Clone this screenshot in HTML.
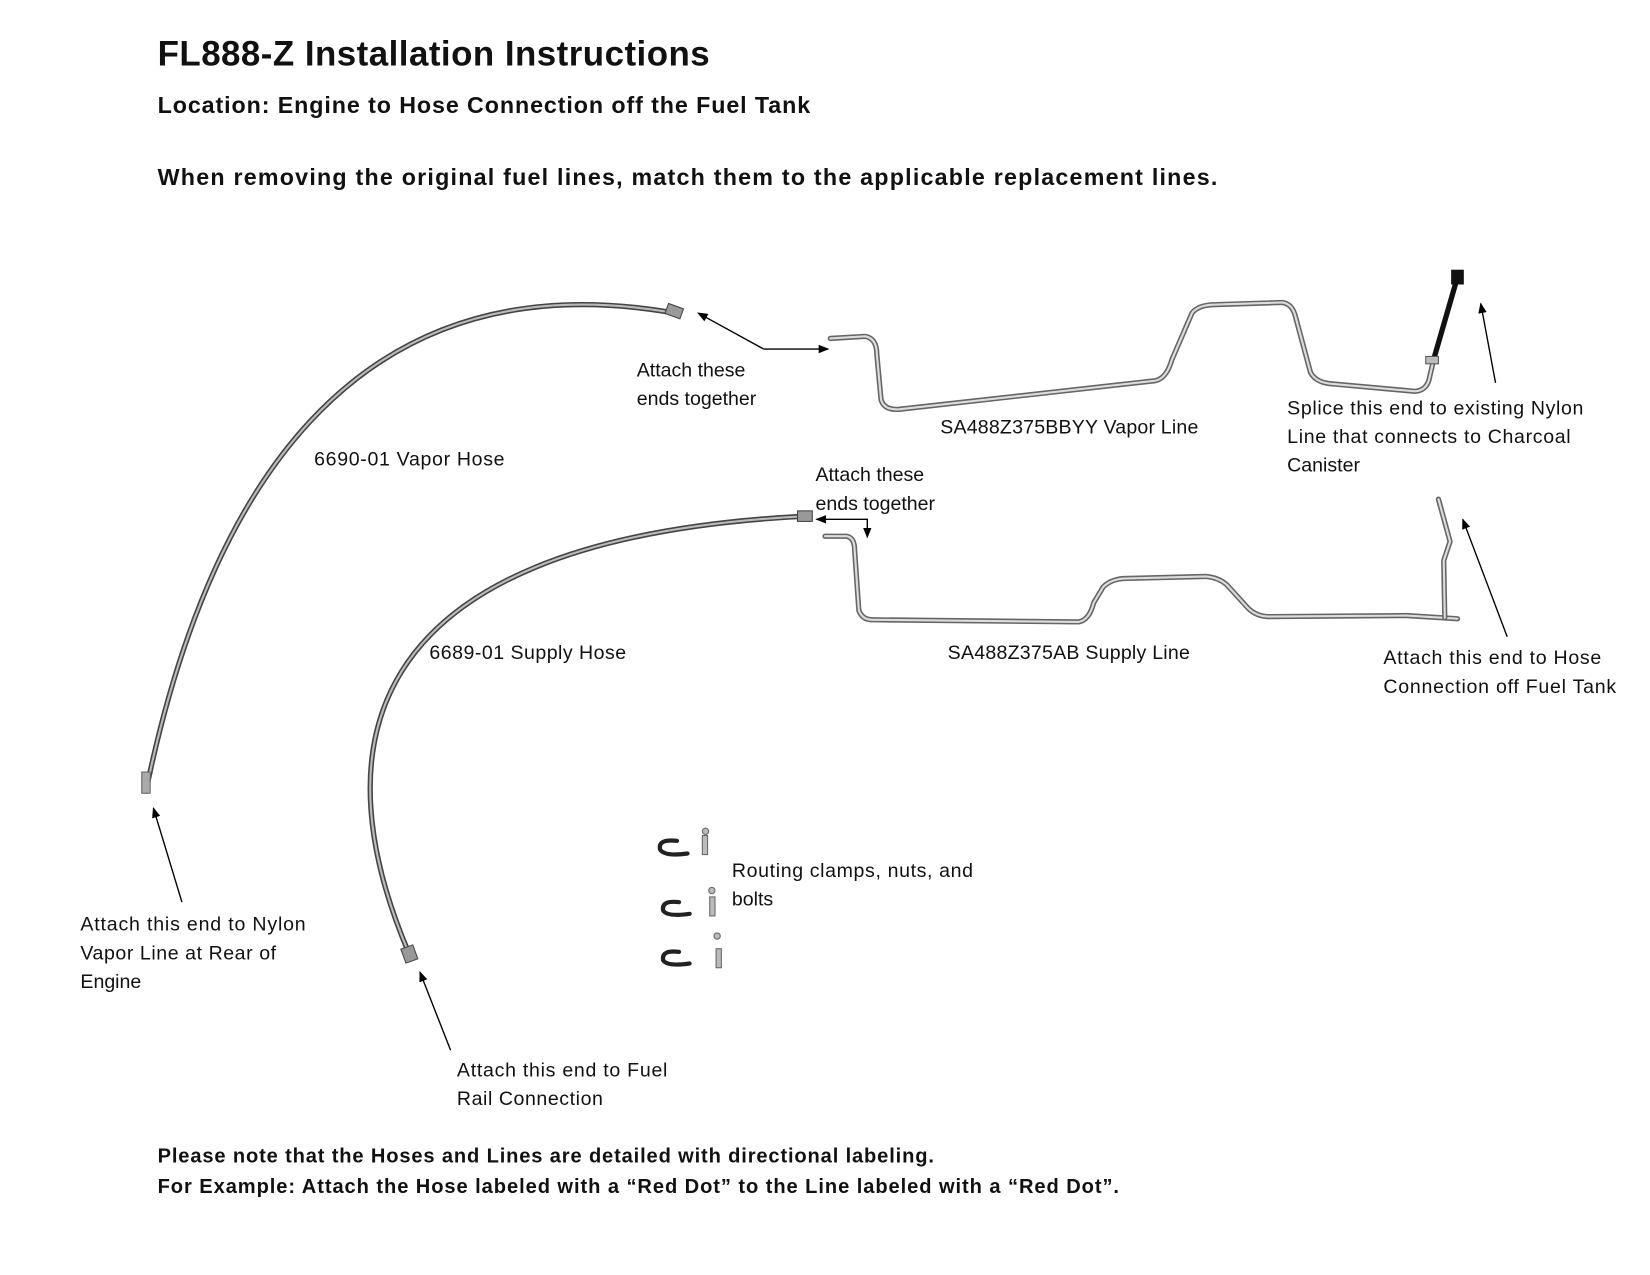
<!DOCTYPE html>
<html><head><meta charset="utf-8"><style>
html,body{margin:0;padding:0;background:#fff;}
svg{display:block;}
text{font-family:"Liberation Sans",sans-serif;fill:#111;}
.b{font-weight:bold;}
.l{font-size:18.5px;}
</style></head><body>
<svg width="1650" height="1275" viewBox="0 0 1560 1205.5" xmlns="http://www.w3.org/2000/svg">
<defs>
<marker id="a" markerWidth="10" markerHeight="8" refX="9" refY="4" orient="auto" markerUnits="userSpaceOnUse">
<path d="M0,0 L10,4 L0,8 z" fill="#000"/></marker>
</defs>
<text x="149" y="62" class="b" font-size="33" textLength="522">FL888-Z Installation Instructions</text>
<text x="149" y="107" class="b" font-size="22" textLength="617">Location: Engine to Hose Connection off the Fuel Tank</text>
<text x="149" y="175" class="b" font-size="22" textLength="1002">When removing the original fuel lines, match them to the applicable replacement lines.</text>

<g fill="none" stroke-linecap="round">
<path d="M138,748 C195,470 330,245 632,295" stroke="#444" stroke-width="5"/>
<path d="M138,748 C195,470 330,245 632,295" stroke="#bbb" stroke-width="2"/>
<path d="M386,900 C310,720 320,510 762,488" stroke="#444" stroke-width="5"/>
<path d="M386,900 C310,720 320,510 762,488" stroke="#bbb" stroke-width="2"/>
</g>
<rect x="630" y="289" width="15" height="10" fill="#999" stroke="#444" transform="rotate(20 637 294)"/>
<rect x="754" y="483" width="14" height="10" fill="#999" stroke="#444"/>
<rect x="381" y="895" width="12" height="14" fill="#999" stroke="#444" transform="rotate(-20 387 902)"/>
<rect x="134" y="730" width="8" height="20" fill="#aaa" stroke="#666"/>

<g fill="none" stroke-linecap="round" stroke-linejoin="round">
<path d="M785,320 L818,318 Q829,320 829,335 L833,378 Q836,388 850,387 L1092,360 Q1103,358 1108,340 L1127,296 Q1133,288 1150,288 L1212,286 Q1222,287 1225,300 L1239,352 Q1244,362 1260,363 L1338,370 Q1350,369 1352,355 L1356,338" stroke="#666" stroke-width="5"/>
<path d="M785,320 L818,318 Q829,320 829,335 L833,378 Q836,388 850,387 L1092,360 Q1103,358 1108,340 L1127,296 Q1133,288 1150,288 L1212,286 Q1222,287 1225,300 L1239,352 Q1244,362 1260,363 L1338,370 Q1350,369 1352,355 L1356,338" stroke="#ddd" stroke-width="2"/>
<path d="M1356,338 L1378,262" stroke="#111" stroke-width="5"/>
<path d="M780,507 L800,507 Q808,508 808,520 L812,577 Q815,586 825,586 L1020,588 Q1030,586 1034,570 L1043,555 Q1050,548 1062,547 L1140,545 Q1152,546 1160,553 L1180,575 Q1188,583 1200,583 L1330,582 L1378,585" stroke="#666" stroke-width="5"/>
<path d="M780,507 L800,507 Q808,508 808,520 L812,577 Q815,586 825,586 L1020,588 Q1030,586 1034,570 L1043,555 Q1050,548 1062,547 L1140,545 Q1152,546 1160,553 L1180,575 Q1188,583 1200,583 L1330,582 L1378,585" stroke="#ddd" stroke-width="2"/>
<path d="M1366,584 L1365,530 L1371,512 L1360,472" stroke="#666" stroke-width="5"/>
<path d="M1366,584 L1365,530 L1371,512 L1360,472" stroke="#ddd" stroke-width="2"/>
</g>
<rect x="1372" y="255" width="12" height="14" fill="#111"/>
<rect x="1348" y="337" width="12" height="7" fill="#bbb" stroke="#555"/>

<g stroke="#000" stroke-width="1.3" fill="none">
<path d="M722,330 L660,296" marker-end="url(#a)"/>
<path d="M722,330 L783,330" marker-end="url(#a)"/>
<path d="M1414,362 L1400,287" marker-end="url(#a)"/>
<path d="M1425,602 L1383,491" marker-end="url(#a)"/>
<path d="M798,491 L772,491" marker-end="url(#a)"/>
<path d="M798,491 L820,491 L820,508" marker-end="url(#a)"/>
<path d="M172,853 L145,764" marker-end="url(#a)"/>
<path d="M426,993 L397,919" marker-end="url(#a)"/>
</g>

<g fill="none" stroke="#222" stroke-width="4" stroke-linecap="round">
<path d="M640,795 Q622,793 624,803 Q628,810 650,807"/>
<path d="M642,853 Q625,851 627,861 Q631,867 652,864"/>
<path d="M642,900 Q625,898 627,908 Q631,914 652,911"/>
</g>
<g fill="#bbb" stroke="#666" stroke-width="1">
<rect x="664" y="790" width="5" height="18"/><circle cx="667" cy="786" r="3"/>
<rect x="671" y="848" width="5" height="18"/><circle cx="673" cy="842" r="3"/>
<rect x="677" y="897" width="5" height="18"/><circle cx="678" cy="885" r="3"/>
</g>

<g class="l">
<text x="602" y="356">Attach these</text><text x="602" y="383">ends together</text>
<text x="889" y="410" textLength="244">SA488Z375BBYY Vapor Line</text>
<text x="1217" y="392" textLength="280">Splice this end to existing Nylon</text>
<text x="1217" y="419" textLength="268">Line that connects to Charcoal</text>
<text x="1217" y="446">Canister</text>
<text x="297" y="440" textLength="180">6690-01 Vapor Hose</text>
<text x="771" y="455">Attach these</text><text x="771" y="482">ends together</text>
<text x="406" y="623" textLength="186">6689-01 Supply Hose</text>
<text x="896" y="623" textLength="229">SA488Z375AB Supply Line</text>
<text x="1308" y="628" textLength="206">Attach this end to Hose</text>
<text x="1308" y="655" textLength="220">Connection off Fuel Tank</text>
<text x="692" y="829" textLength="228">Routing clamps, nuts, and</text>
<text x="692" y="856">bolts</text>
<text x="76" y="880" textLength="213">Attach this end to Nylon</text>
<text x="76" y="907" textLength="185">Vapor Line at Rear of</text>
<text x="76" y="934">Engine</text>
<text x="432" y="1018" textLength="199">Attach this end to Fuel</text>
<text x="432" y="1045" textLength="138">Rail Connection</text>
</g>
<text x="149" y="1099" class="b" font-size="19" textLength="734">Please note that the Hoses and Lines are detailed with directional labeling.</text>
<text x="149" y="1128" class="b" font-size="19" textLength="909">For Example: Attach the Hose labeled with a “Red Dot” to the Line labeled with a “Red Dot”.</text>
</svg>
</body></html>
